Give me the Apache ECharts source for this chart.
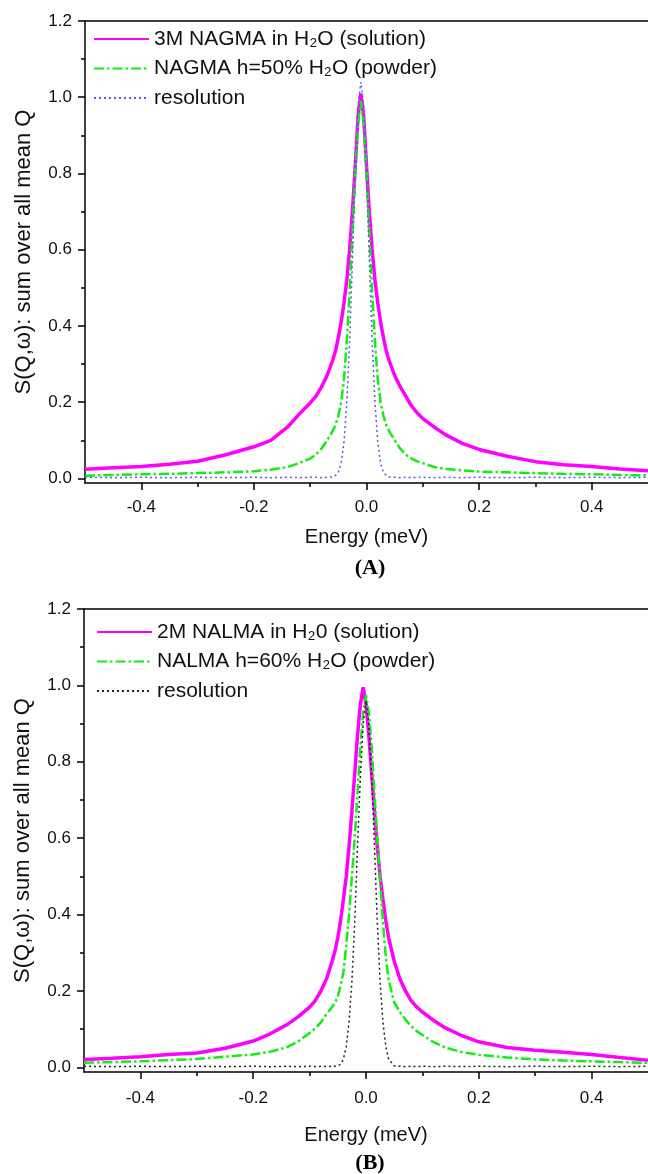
<!DOCTYPE html>
<html><head><meta charset="utf-8">
<script src="https://cdn.jsdelivr.net/npm/echarts@6/dist/echarts.min.js"></script>
<style>html,body{margin:0;padding:0;background:#fff}#c{width:648px;height:1174px}</style>
</head><body><div id="c"></div>
<script>
// Energy grid (meV) shared by all curves
const energy = [-0.5,-0.45,-0.4,-0.35,-0.3,-0.25,-0.2,-0.17,-0.14,-0.12,-0.1,-0.09,-0.08,-0.07,-0.06,-0.055,-0.05,-0.045,-0.04,-0.035,-0.03,-0.025,-0.02,-0.015,-0.01,-0.005,0,0.005,0.01,0.015,0.02,0.025,0.03,0.035,0.04,0.05,0.06,0.07,0.08,0.09,0.1,0.12,0.14,0.17,0.2,0.25,0.3,0.35,0.4,0.45,0.5];

// Panel A
const topSolution = [0.024,0.028,0.031,0.037,0.045,0.062,0.083,0.1,0.135,0.168,0.198,0.215,0.24,0.27,0.31,0.335,0.37,0.41,0.46,0.52,0.6,0.7,0.82,0.95,1.01,0.95,0.82,0.7,0.6,0.52,0.46,0.41,0.37,0.335,0.31,0.27,0.24,0.215,0.19,0.172,0.157,0.135,0.115,0.092,0.076,0.058,0.044,0.036,0.031,0.025,0.02];
const topPowder = [0.007,0.009,0.011,0.012,0.014,0.016,0.019,0.023,0.03,0.04,0.052,0.062,0.078,0.1,0.125,0.14,0.165,0.2,0.26,0.36,0.49,0.64,0.8,0.93,0.99,0.93,0.8,0.64,0.49,0.36,0.26,0.2,0.165,0.14,0.125,0.1,0.078,0.062,0.052,0.045,0.04,0.03,0.025,0.021,0.018,0.016,0.014,0.012,0.011,0.009,0.008];
const topResolution = [0.003,0.002,0.003,0.002,0.003,0.002,0.003,0.002,0.003,0.002,0.003,0.003,0.002,0.003,0.004,0.008,0.016,0.04,0.095,0.2,0.36,0.57,0.8,0.98,1.04,0.98,0.8,0.57,0.36,0.2,0.095,0.04,0.016,0.008,0.004,0.003,0.002,0.003,0.002,0.003,0.003,0.002,0.003,0.002,0.003,0.002,0.003,0.002,0.003,0.002,0.003];

// Panel B
const bottomSolution = [0.021,0.024,0.028,0.034,0.038,0.05,0.069,0.088,0.112,0.133,0.158,0.175,0.2,0.232,0.278,0.305,0.34,0.385,0.44,0.5,0.58,0.67,0.77,0.87,0.95,0.995,0.95,0.87,0.77,0.67,0.58,0.5,0.44,0.385,0.34,0.278,0.232,0.2,0.175,0.158,0.145,0.123,0.104,0.083,0.067,0.052,0.045,0.04,0.034,0.026,0.019];
const bottomPowder = [0.012,0.014,0.016,0.019,0.022,0.028,0.034,0.041,0.053,0.068,0.09,0.102,0.118,0.14,0.158,0.17,0.185,0.215,0.25,0.32,0.4,0.5,0.6,0.72,0.84,0.93,0.975,0.93,0.84,0.72,0.6,0.49,0.38,0.29,0.23,0.17,0.145,0.125,0.108,0.095,0.085,0.066,0.052,0.04,0.033,0.026,0.021,0.018,0.016,0.014,0.012];
const bottomResolution = [0.003,0.002,0.003,0.002,0.003,0.002,0.003,0.002,0.003,0.002,0.003,0.002,0.003,0.002,0.003,0.003,0.004,0.008,0.022,0.055,0.12,0.225,0.38,0.58,0.76,0.9,0.96,0.9,0.76,0.58,0.38,0.225,0.12,0.055,0.022,0.004,0.003,0.002,0.003,0.002,0.003,0.002,0.003,0.002,0.003,0.002,0.003,0.002,0.003,0.002,0.003];

const topNames = ['3M NAGMA in H\u2082O (solution)', 'NAGMA h=50% H\u2082O (powder)', 'resolution'];
const bottomNames = ['2M NALMA in H\u20820 (solution)', 'NALMA h=60% H\u2082O (powder)', 'resolution '];

const yMajorTicks = [0, 0.2, 0.4, 0.6, 0.8, 1.0, 1.2];
const yMinorTicks = [0.1, 0.3, 0.5, 0.7, 0.9, 1.1];
const xMajorTicks = [-0.4, -0.2, 0, 0.2, 0.4];
const xMinorTicks = [-0.3, -0.1, 0.1, 0.3];

const FONT = '"Liberation Sans", Arial, "DejaVu Sans", sans-serif';
const TXT = '#111';
const Y_MIN = -0.012, Y_MAX = 1.2, X_MIN = -0.5, X_MAX = 0.5;

const panels = [
  { grid: {left: 85, top: 21, width: 570, height: 462}, names: topNames,
    data: [topSolution, topPowder, topResolution], resColor: '#5a5af0',
    nameGap: 44, labelMargin: 16, legendLeft: 93, legendTop: 28, tag: '(A)', tagY: 568 },
  { grid: {left: 84, top: 609, width: 573, height: 463}, names: bottomNames,
    data: [bottomSolution, bottomPowder, bottomResolution], resColor: '#222',
    nameGap: 53, labelMargin: 18, legendLeft: 96, legendTop: 621, tag: '(B)', tagY: 1163 }
];

const axisLineStyle = {color: '#000', width: 1.5};
const grids = [], xAxes = [], yAxes = [], series = [], legends = [], graphics = [];

panels.forEach((p, g) => {
  grids.push(Object.assign({}, p.grid));
  const xBase = xAxes.length, yBase = yAxes.length;
  xAxes.push({
    type: 'value', gridIndex: g, min: X_MIN, max: X_MAX, position: 'bottom',
    axisLine: {show: true, onZero: false, lineStyle: axisLineStyle},
    axisTick: {show: true, customValues: xMajorTicks, length: 7, lineStyle: axisLineStyle},
    axisLabel: {customValues: xMajorTicks, formatter: v => v.toFixed(1), fontSize: 17, fontFamily: FONT, color: TXT, margin: p.labelMargin},
    splitLine: {show: false},
    name: 'Energy (meV)', nameLocation: 'middle', nameGap: p.nameGap,
    nameTextStyle: {fontSize: 20, fontFamily: FONT, color: TXT}
  });
  xAxes.push({
    type: 'value', gridIndex: g, min: X_MIN, max: X_MAX, position: 'bottom',
    axisLine: {show: false, onZero: false},
    axisTick: {show: true, customValues: xMinorTicks, length: 4, lineStyle: axisLineStyle},
    axisLabel: {show: false}, splitLine: {show: false}
  });
  xAxes.push({
    type: 'value', gridIndex: g, min: X_MIN, max: X_MAX, position: 'top',
    axisLine: {show: true, onZero: false, lineStyle: axisLineStyle},
    axisTick: {show: false}, axisLabel: {show: false}, splitLine: {show: false}
  });
  yAxes.push({
    type: 'value', gridIndex: g, min: Y_MIN, max: Y_MAX, position: 'left',
    axisLine: {show: true, onZero: false, lineStyle: axisLineStyle},
    axisTick: {show: true, customValues: yMajorTicks, length: 7, lineStyle: axisLineStyle},
    axisLabel: {customValues: yMajorTicks, formatter: v => v.toFixed(1), fontSize: 17, fontFamily: FONT, color: TXT, margin: 13},
    splitLine: {show: false},
    name: 'S(Q,\u03c9): sum over all mean Q', nameLocation: 'middle', nameRotate: 90, nameGap: 50,
    nameTextStyle: {fontSize: 22, fontFamily: FONT, color: TXT}
  });
  yAxes.push({
    type: 'value', gridIndex: g, min: Y_MIN, max: Y_MAX, position: 'left',
    axisLine: {show: false, onZero: false},
    axisTick: {show: true, customValues: yMinorTicks, length: 4, lineStyle: axisLineStyle},
    axisLabel: {show: false}, splitLine: {show: false}
  });

  const styles = [
    {color: '#ff00ff', width: 3.5, type: 'solid'},
    {color: '#11ee11', width: 2.5, type: [10, 3, 2.5, 3]},
    {color: p.resColor, width: 1.5, type: [2, 3]}
  ];
  p.data.forEach((arr, i) => {
    series.push({
      type: 'line', name: p.names[i], xAxisIndex: xBase, yAxisIndex: yBase,
      data: energy.map((x, k) => [x, arr[k]]),
      showSymbol: false, symbol: 'none', smooth: false,
      lineStyle: {color: styles[i].color, width: styles[i].width, type: styles[i].type},
      itemStyle: {color: styles[i].color},
      emphasis: {disabled: true}, z: 2 + i
    });
  });

  legends.push({
    orient: 'vertical', left: p.legendLeft, top: p.legendTop, padding: 0, itemGap: 7.5,
    itemWidth: 55, itemHeight: 14, selectedMode: false, data: p.names,
    itemStyle: {opacity: 0},
    textStyle: {fontSize: 21, fontFamily: FONT, color: TXT, lineHeight: 22}
  });

  graphics.push({
    type: 'text', x: 370, y: p.tagY,
    style: {text: p.tag, font: 'bold 22px "Liberation Serif", "Times New Roman", serif', fill: '#000', textAlign: 'center', textVerticalAlign: 'middle'}
  });
});

const chart = echarts.init(document.getElementById('c'), null, {renderer: 'canvas'});
chart.setOption({
  animation: false, backgroundColor: '#fff',
  grid: grids, xAxis: xAxes, yAxis: yAxes, series: series, legend: legends, graphic: graphics
});
</script></body></html>
